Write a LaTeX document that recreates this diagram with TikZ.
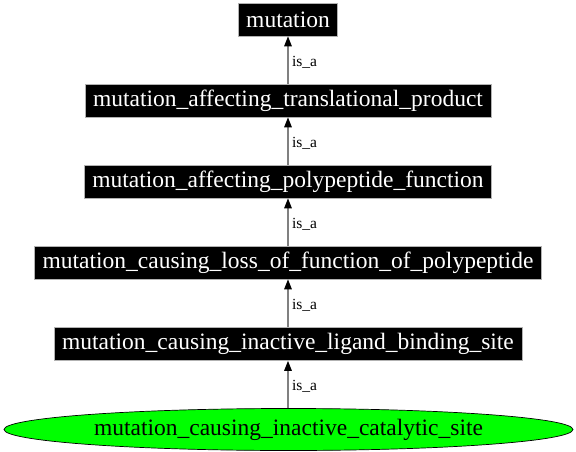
\documentclass[tikz,border=0pt]{standalone}
\usepackage{fontspec}
\setmainfont{Liberation Serif}
\usetikzlibrary{arrows.meta,shapes.geometric}
\begin{document}
\begin{tikzpicture}[x=1pt,y=-1pt,
  termbox/.style={rectangle, fill=black, draw=gray!60, line width=0.6pt, text=white,
    font=\fontsize{23.5}{24}\selectfont, inner xsep=8pt, inner ysep=0pt,
    minimum height=33pt},
  leaf/.style={ellipse, fill=green, draw=black, line width=0.7pt, text=black,
    font=\fontsize{23.5}{24}\selectfont, inner sep=0pt,
    minimum width=569pt, minimum height=42pt},
  isa/.style={draw=gray, line width=1.3pt,
    -{Triangle[length=10pt,width=7.5pt,color=black,fill=black]}},
  elabel/.style={font=\fontsize{15.5}{16}\selectfont, text=black, anchor=west,
    inner sep=0pt, xshift=3.5pt, yshift=-2pt}
]
\useasboundingbox (0,0) rectangle (576,452);
\node[termbox] (m1) at (288,19.5) {mutation};
\node[termbox] (m2) at (288,100.5) {mutation\_affecting\_translational\_product};
\node[termbox] (m3) at (288,181.5) {mutation\_affecting\_polypeptide\_function};
\node[termbox] (m4) at (288,262.5) {mutation\_causing\_loss\_of\_function\_of\_polypeptide};
\node[termbox] (m5) at (288,344) {mutation\_causing\_inactive\_ligand\_binding\_site};
\node[leaf] (e) at (288.5,429.5) {mutation\_causing\_inactive\_catalytic\_site};
\draw[isa] (m2.north) -- node[elabel] {is\_a} (m1.south);
\draw[isa] (m3.north) -- node[elabel] {is\_a} (m2.south);
\draw[isa] (m4.north) -- node[elabel] {is\_a} (m3.south);
\draw[isa] (m5.north) -- node[elabel] {is\_a} (m4.south);
\draw[isa] (e.north -| m5.south) -- node[elabel] {is\_a} (m5.south);
\end{tikzpicture}
\end{document}
